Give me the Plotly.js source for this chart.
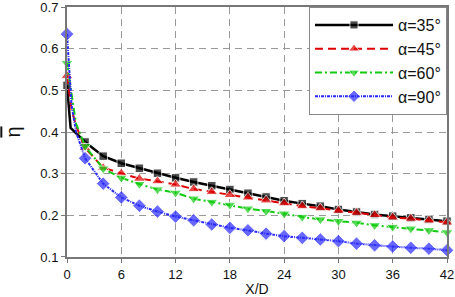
<!DOCTYPE html>
<html>
<head>
<meta charset="utf-8">
<script src="https://cdn.plot.ly/plotly-3.0.1.min.js"></script>
<style>html,body{margin:0;padding:0;background:#fff}#chart{width:455px;height:297px}</style>
</head>
<body>
<div id="chart"></div>
<script>
// X/D positions
var x35 = [0, 0.4, 2, 4, 6, 8, 10, 12, 14, 16, 18, 20, 22, 24, 26, 28, 30, 32, 34, 36, 38, 40, 42];
var y35 = [0.512, 0.410, 0.376, 0.342, 0.325, 0.313, 0.301, 0.290, 0.280, 0.271, 0.262, 0.253, 0.244, 0.235, 0.228, 0.222, 0.214, 0.208, 0.202, 0.198, 0.194, 0.190, 0.186];
var m35 = [1, 0, 1, 1, 1, 1, 1, 1, 1, 1, 1, 1, 1, 1, 1, 1, 1, 1, 1, 1, 1, 1, 1];

var x45 = [0, 0.5, 1, 2, 4, 6, 8, 10, 12, 14, 16, 18, 20, 22, 24, 26, 28, 30, 32, 34, 36, 38, 40, 42];
var y45 = [0.535, 0.455, 0.415, 0.362, 0.314, 0.301, 0.288, 0.282, 0.274, 0.263, 0.256, 0.249, 0.243, 0.236, 0.229, 0.222, 0.217, 0.211, 0.206, 0.201, 0.195, 0.192, 0.188, 0.183];
var m45 = [1, 0, 0, 1, 1, 1, 1, 1, 1, 1, 1, 1, 1, 1, 1, 1, 1, 1, 1, 1, 1, 1, 1, 1];

var x60 = [0, 0.5, 1, 2, 4, 6, 8, 10, 12, 14, 16, 18, 20, 22, 24, 26, 28, 30, 32, 34, 36, 38, 40, 42];
var y60 = [0.565, 0.490, 0.420, 0.366, 0.312, 0.290, 0.275, 0.262, 0.254, 0.240, 0.232, 0.225, 0.216, 0.210, 0.204, 0.196, 0.190, 0.186, 0.182, 0.176, 0.172, 0.168, 0.164, 0.159];
var m60 = [1, 0, 0, 1, 1, 1, 1, 1, 1, 1, 1, 1, 1, 1, 1, 1, 1, 1, 1, 1, 1, 1, 1, 1];

var x90 = [0, 0.5, 1, 2, 4, 6, 8, 10, 12, 14, 16, 18, 20, 22, 24, 26, 28, 30, 32, 34, 36, 38, 40, 42];
var y90 = [0.635, 0.465, 0.400, 0.337, 0.276, 0.243, 0.223, 0.209, 0.197, 0.188, 0.178, 0.170, 0.164, 0.156, 0.150, 0.146, 0.142, 0.138, 0.132, 0.128, 0.125, 0.122, 0.120, 0.116];
var m90 = [1, 0, 0, 1, 1, 1, 1, 1, 1, 1, 1, 1, 1, 1, 1, 1, 1, 1, 1, 1, 1, 1, 1, 1];

var names = ['\u03b1=35\u00b0', '\u03b1=45\u00b0', '\u03b1=60\u00b0', '\u03b1=90\u00b0'];
var xTicks = [0, 6, 12, 18, 24, 30, 36, 42];
var yTicks = [0.1, 0.2, 0.3, 0.4, 0.5, 0.6, 0.7];

function sizes(mask, s) { return mask.map(function (m) { return m ? s : 0; }); }

var traces = [
  {x: x35, y: y35, name: names[0], mode: 'lines+markers', cliponaxis: false,
   line: {color: '#000000', width: 2.5, dash: 'solid'},
   marker: {symbol: 'square', size: sizes(m35, 8.5), color: '#000000'}},
  {x: x45, y: y45, name: names[1], mode: 'lines+markers', cliponaxis: false,
   line: {color: '#dd0000', width: 2, dash: '8px,5px'},
   marker: {symbol: 'triangle-up', size: sizes(m45, 10.5), color: '#dd0000'}},
  {x: x60, y: y60, name: names[2], mode: 'lines+markers', cliponaxis: false,
   line: {color: '#11cc11', width: 2, dash: '7px,3px,2px,3px'},
   marker: {symbol: 'triangle-down', size: sizes(m60, 10.5), color: '#11cc11'}},
  {x: x90, y: y90, name: names[3], mode: 'lines+markers', cliponaxis: false,
   line: {color: '#2a2aff', width: 2, dash: '3px,1px,1px,1px'},
   marker: {symbol: 'diamond', size: sizes(m90, 10.5), color: '#2a2aff'}}
];

var layout = {
  width: 455, height: 297,
  margin: {l: 67, r: 8, t: 7, b: 40},
  paper_bgcolor: '#ffffff', plot_bgcolor: '#ffffff',
  font: {family: 'Liberation Sans, Arial, sans-serif', size: 13, color: '#111'},
  showlegend: true,
  legend: {x: 1, xanchor: 'right', y: 1, yanchor: 'top', bgcolor: '#ffffff',
           bordercolor: '#888', borderwidth: 1, font: {size: 16},
           itemwidth: 78, tracegroupgap: 0},
  xaxis: {range: [0, 42], tickvals: xTicks, ticktext: xTicks.map(String),
          showgrid: true, gridcolor: '#999', griddash: '7px,5px', gridwidth: 1,
          zeroline: false, showline: true, linecolor: '#777', linewidth: 2, mirror: true,
          ticks: 'outside', ticklen: 4, tickcolor: '#777', ticklabeloverflow: 'allow',
          title: {text: 'X/D', font: {size: 14}, standoff: 8}},
  yaxis: {range: [0.0999, 0.7001], tickvals: yTicks, ticktext: yTicks.map(function (v) { return v.toFixed(1); }),
          showgrid: true, gridcolor: '#999', griddash: '7px,5px', gridwidth: 1,
          zeroline: false, showline: true, linecolor: '#777', linewidth: 2, mirror: true,
          ticks: 'outside', ticklen: 4, tickcolor: '#777', ticklabeloverflow: 'allow',
          title: {text: '<span style="text-decoration:overline">\u03b7</span>', font: {size: 20}, standoff: 14}}
};

Plotly.newPlot('chart', traces, layout, {displayModeBar: false, staticPlot: true});
</script>
</body>
</html>
